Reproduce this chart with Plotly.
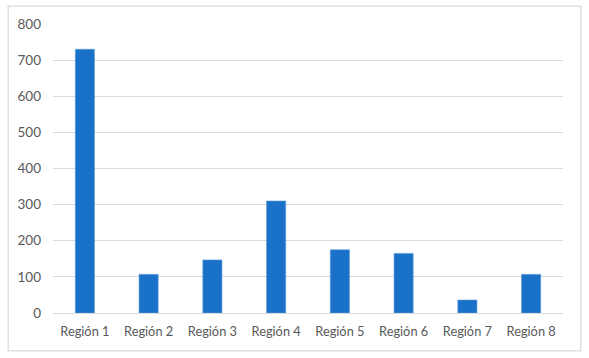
import plotly.graph_objects as go

categories = ["Región 1", "Región 2", "Región 3", "Región 4", "Región 5", "Región 6", "Región 7", "Región 8"]
values = [730, 107, 147, 310, 175, 165, 36, 107]
y_ticks = [0, 100, 200, 300, 400, 500, 600, 700, 800]

fig = go.Figure(go.Bar(
    x=categories, y=values,
    marker=dict(color="#1A71C8", line=dict(color="#5B9BDD", width=0.6)),
))

fig.update_layout(
    width=589, height=358,
    margin=dict(l=53, r=26, t=24, b=45),
    paper_bgcolor="white", plot_bgcolor="white",
    bargap=0.70,
    showlegend=False,
    font=dict(family="Lato, Calibri, sans-serif", size=13, color="#595959"),
    xaxis=dict(showgrid=False, showline=True, linecolor="#D9D9D9", linewidth=1,
               ticks="", ticklabelstandoff=7, tickfont=dict(size=12.8, color="#595959")),
    yaxis=dict(range=[0, 800], tickvals=y_ticks, showgrid=True, gridcolor="#D9D9D9",
               gridwidth=1, zeroline=False, showline=False, ticks="",
               ticklabelstandoff=11, tickfont=dict(size=13.5, color="#595959")),
    shapes=[dict(type="rect", xref="paper", yref="paper",
                 x0=-0.088, x1=1.035, y0=-0.131, y1=1.062,
                 line=dict(color="#D9D9D9", width=1.2), layer="below")],
)

fig.write_html("out.html", config={"displayModeBar": False},
               post_script="document.body.style.margin='0';document.body.style.padding='0';document.body.style.overflow='hidden';")
